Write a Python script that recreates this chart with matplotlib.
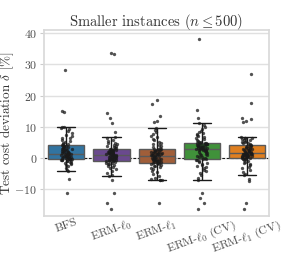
import numpy as np
import pandas as pd
import matplotlib
matplotlib.use('Agg')
import matplotlib.pyplot as plt
import seaborn as sns

# test cost deviation (%) per method
bfs = [-11.1, -6.7,
       -4.0, -3.8, -3.1, -2.6, -2.2, -1.9, -1.6, -1.4, -1.2, -1.0, -0.9, -0.8, -0.7, -0.6, -0.5, -0.4, -0.35, -0.3, -0.2,
       -0.1, 0.0, 0.05, 0.1, 0.2, 0.3, 0.35, 0.45, 0.55, 0.6, 0.7, 0.8, 0.9, 1.0, 1.1, 1.2, 1.25, 1.3, 1.4, 1.5,
       1.6, 1.7, 1.8, 1.9, 2.0, 2.1, 2.2, 2.4, 2.5, 2.6, 2.8, 2.9, 3.0, 3.2, 3.3, 3.5, 3.6, 3.8, 3.9, 4.1,
       4.3, 4.4, 4.6, 4.9, 5.2, 5.5, 5.9, 6.3, 6.6, 7.0, 7.5, 8.0, 8.6, 9.2, 9.6, 9.9, 10.0,
       14.9, 15.2, 28.3]
erm_l0 = [-16.4, -14.2, -11.1, -7.1,
          -5.7, -5.3, -4.6, -4.0, -3.5, -3.1, -2.8, -2.5, -2.2, -2.0, -1.8, -1.6, -1.4, -1.2, -1.0, -0.9, -0.8,
          -0.7, -0.6, -0.5, -0.4, -0.3, -0.2, -0.1, 0.0, 0.1, 0.2, 0.3, 0.4, 0.5, 0.55, 0.6, 0.7, 0.8, 0.85, 0.9, 1.0,
          1.1, 1.2, 1.3, 1.4, 1.5, 1.6, 1.7, 1.8, 1.9, 2.0, 2.1, 2.2, 2.3, 2.4, 2.45, 2.5, 2.6, 2.65, 2.7, 2.8,
          3.0, 3.2, 3.4, 3.6, 3.8, 4.0, 4.2, 4.4, 4.7, 5.0, 5.4, 5.8, 6.3, 6.7,
          8.5, 11.4, 12.7, 14.3, 33.2, 33.5]
erm_l1 = [-14.3,
          -7.1, -7.0, -6.9, -6.6, -6.2, -5.6, -5.0, -4.5, -4.0, -3.6, -3.2, -2.9, -2.6, -2.4, -2.2, -2.0, -1.8, -1.6, -1.5, -1.4,
          -1.3, -1.2, -1.1, -1.0, -0.9, -0.8, -0.7, -0.6, -0.5, -0.4, -0.3, -0.2, -0.1, 0.0, 0.1, 0.2, 0.35, 0.5, 0.65, 0.8,
          0.9, 1.0, 1.1, 1.2, 1.3, 1.4, 1.5, 1.6, 1.7, 1.8, 1.9, 2.0, 2.1, 2.2, 2.4, 2.5, 2.7, 2.8, 3.0, 3.1,
          3.3, 3.6, 3.9, 4.2, 4.5, 4.9, 5.3, 5.8, 6.2, 6.7, 7.2, 7.8, 8.4, 9.0, 9.6,
          11.5, 12.0, 13.6, 17.4, 18.7]
erm_l0_cv = [-16.4, -14.3, -12.7, -11.0,
             -7.1, -6.3, -5.5, -4.8, -4.2, -3.7, -3.2, -2.8, -2.4, -2.1, -1.8, -1.5, -1.2, -1.0, -0.7, -0.5, -0.3,
             -0.1, 0.1, 0.3, 0.5, 0.7, 0.9, 1.1, 1.3, 1.5, 1.7, 1.9, 2.1, 2.3, 2.4, 2.5, 2.6, 2.7, 2.8, 2.9, 3.0,
             3.1, 3.2, 3.3, 3.4, 3.5, 3.6, 3.7, 3.8, 3.9, 4.0, 4.1, 4.2, 4.3, 4.4, 4.5, 4.6, 4.7, 4.75, 4.8, 4.9,
             5.1, 5.3, 5.6, 5.9, 6.2, 6.5, 6.8, 7.1, 7.4, 7.7, 8.0, 8.4, 8.8, 9.3, 9.9, 10.6, 11.4,
             12.9, 15.5, 38.0]
erm_l1_cv = [-16.4, -14.2, -7.3, -6.8,
             -5.5, -5.0, -4.4, -3.8, -3.2, -2.7, -2.2, -1.8, -1.4, -1.1, -0.8, -0.6, -0.4, -0.2, -0.1, 0.0, 0.2,
             0.3, 0.4, 0.5, 0.55, 0.6, 0.7, 0.8, 0.85, 0.9, 1.0, 1.05, 1.1, 1.2, 1.25, 1.3, 1.4, 1.45, 1.5, 1.6, 1.7,
             1.8, 1.9, 2.0, 2.1, 2.2, 2.3, 2.4, 2.5, 2.6, 2.7, 2.8, 2.9, 3.0, 3.2, 3.3, 3.5, 3.6, 3.8, 3.9, 4.1,
             4.3, 4.5, 4.7, 4.9, 5.1, 5.3, 5.5, 5.7, 5.9, 6.1, 6.3, 6.5, 6.6, 6.7,
             11.5, 12.0, 12.5, 13.0, 17.6, 27.0]

methods = ['BFS', r'ERM-$\ell_0$', r'ERM-$\ell_1$', r'ERM-$\ell_0$ (CV)', r'ERM-$\ell_1$ (CV)']
values = [bfs, erm_l0, erm_l1, erm_l0_cv, erm_l1_cv]
colors = ['#1f78b4', '#6a3d9a', '#b15928', '#33a02c', '#ff7f00']

df = pd.DataFrame({
    'method': np.repeat(methods, [len(v) for v in values]),
    'delta': np.concatenate(values),
})

sns.set_theme(style='whitegrid')
plt.rcParams.update({
    'font.family': 'serif',
    'font.serif': ['cmr10'],
    'mathtext.fontset': 'cm',
    'axes.formatter.use_mathtext': True,
    'axes.edgecolor': '0.85',
    'grid.color': '0.88',
})

np.random.seed(0)  # only for strip jitter
fig = plt.figure(figsize=(2.99, 2.56), dpi=100)
ax = fig.add_axes([0.147, 0.156, 0.753, 0.727])

ax.axhline(0, color='k', ls='--', lw=0.8, dashes=(2.5, 1.5), zorder=1.5)
sns.boxplot(data=df, x='method', y='delta', hue='method', palette=colors, legend=False,
            showfliers=False, width=0.8, linewidth=1.0, linecolor='0.35', ax=ax,
            whiskerprops={'color': '0.1'}, capprops={'color': '0.1'})
sns.stripplot(data=df, x='method', y='delta', color='k', size=2.4, alpha=0.75,
              jitter=0.12, ax=ax)

ax.set_ylim(-18.5, 41)
ax.set_yticks([-10, 0, 10, 20, 30, 40])
ax.tick_params(axis='y', left=True, length=3, width=0.8, color='0.8', labelsize=8.5,
               labelcolor='0.3', pad=2)
ax.tick_params(axis='x', length=0, labelsize=8.5, labelcolor='0.3', pad=1)
plt.setp(ax.get_xticklabels(), rotation=20, ha='center')
ax.set_xlabel('')
ax.set_ylabel(r'Test cost deviation $\delta$ [$\%$]', fontsize=9.5, color='0.2')
ax.yaxis.set_label_coords(-0.122, 0.5)
ax.set_title(r'Smaller instances ($n \leq 500$)', fontsize=10.5, color='0.2', pad=3)

fig.savefig('out.png', dpi=100)
